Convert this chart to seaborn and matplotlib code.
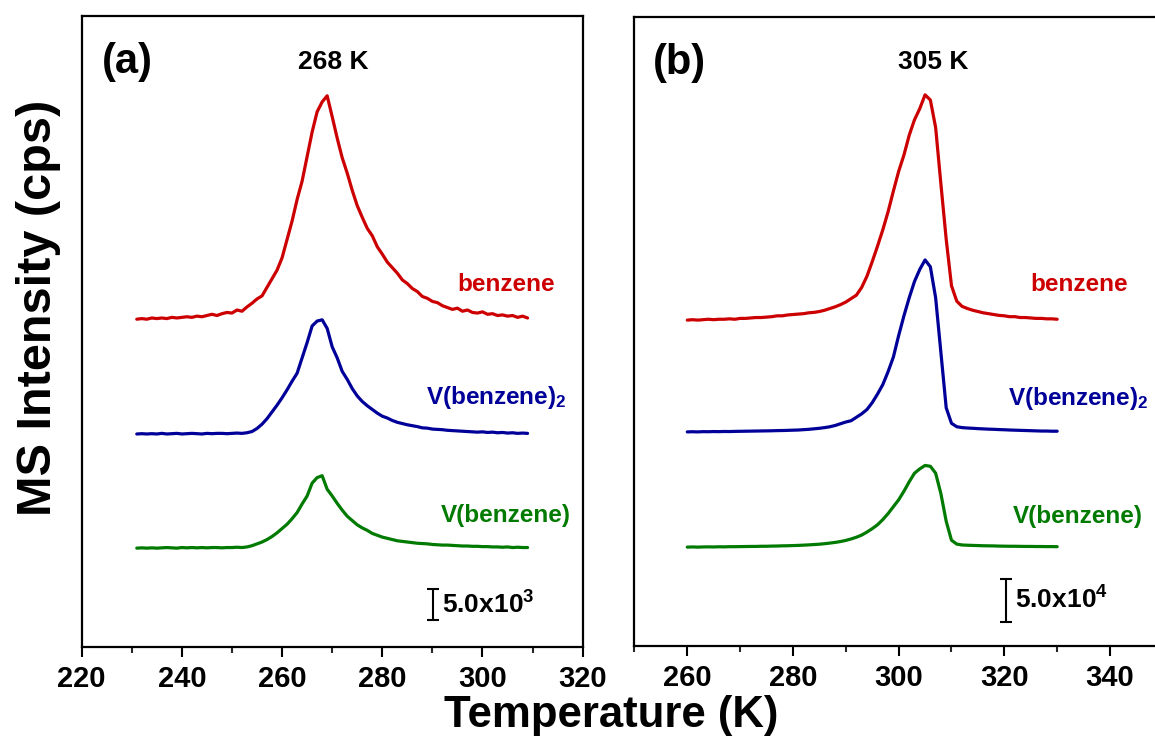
import numpy as np
import pandas as pd
import seaborn as sns
import matplotlib
matplotlib.use("Agg")
import matplotlib.pyplot as plt
from matplotlib.ticker import MultipleLocator

# ---------------- data ----------------
# Panel (a): temperature grid (K) and desorption signals in units of 1e3 cps
temp_a = list(range(231, 310))
benzene_a = [
    0.0, 0.1, 0.0, 0.2, 0.1, 0.2, 0.1, 0.3, 0.2, 0.3,
    0.4, 0.3, 0.5, 0.4, 0.6, 0.8, 0.6, 0.9, 1.1, 1.0,
    1.5, 1.3, 2.0, 2.6, 3.3, 3.8, 5.2, 6.6, 8.0, 10.0,
    13.0, 16.0, 19.5, 22.5, 26.5, 30.5, 33.8, 35.4, 36.4, 33.0,
    29.5, 26.3, 23.8, 21.0, 18.5, 16.6, 14.8, 13.6, 11.8, 10.6,
    9.3, 8.4, 7.5, 6.4, 5.8, 5.0, 4.5, 3.7, 3.4, 2.9,
    2.7, 2.2, 1.9, 1.6, 1.8, 1.3, 1.5, 1.1, 1.0, 1.2,
    0.8, 0.9, 0.6, 0.7, 0.5, 0.6, 0.3, 0.5, 0.2,
]
vbz2_a = [
    0.0, 0.05, 0.0, 0.05, 0.0, 0.1, 0.0, 0.05, 0.1, 0.0,
    0.05, 0.1, 0.05, 0.0, 0.1, 0.05, 0.1, 0.1, 0.05, 0.1,
    0.15, 0.1, 0.2, 0.4, 0.9, 1.6, 2.5, 3.6, 4.7, 5.9,
    7.2, 8.6, 9.9, 12.4, 14.9, 17.6, 18.4, 18.6, 17.2, 14.2,
    12.4, 10.2, 8.9, 7.4, 6.2, 5.3, 4.6, 4.0, 3.4, 2.9,
    2.6, 2.2, 1.9, 1.7, 1.5, 1.35, 1.2, 1.0, 0.95, 0.8,
    0.75, 0.7, 0.6, 0.55, 0.5, 0.45, 0.4, 0.35, 0.3, 0.35,
    0.25, 0.3, 0.2, 0.25, 0.15, 0.2, 0.1, 0.15, 0.1,
]
vbz_a = [
    0.0, 0.05, 0.0, 0.05, 0.0, 0.05, 0.1, 0.05, 0.0, 0.1,
    0.05, 0.1, 0.05, 0.1, 0.05, 0.1, 0.1, 0.05, 0.1, 0.1,
    0.15, 0.1, 0.2, 0.4, 0.7, 1.0, 1.4, 1.9, 2.5, 3.2,
    3.9, 4.8, 5.8, 7.2, 8.5, 10.6, 11.5, 11.8, 9.6, 8.5,
    7.3, 6.2, 5.2, 4.5, 3.8, 3.3, 2.9, 2.4, 2.1, 1.8,
    1.6, 1.4, 1.2, 1.1, 1.0, 0.9, 0.8, 0.75, 0.7, 0.6,
    0.55, 0.5, 0.5, 0.45, 0.4, 0.35, 0.35, 0.3, 0.3, 0.25,
    0.25, 0.2, 0.2, 0.15, 0.2, 0.1, 0.15, 0.1, 0.1,
]

# Panel (b): temperature grid (K) and desorption signals in units of 1e4 cps
temp_b = list(range(260, 331))
benzene_b = [
    0.0, 0.05, 0.0, 0.05, 0.1, 0.05, 0.1, 0.1, 0.15, 0.1,
    0.2, 0.2, 0.25, 0.3, 0.3, 0.35, 0.4, 0.5, 0.5, 0.6,
    0.65, 0.7, 0.75, 0.85, 0.9, 1.0, 1.15, 1.35, 1.55, 1.8,
    2.1, 2.5, 2.9, 3.8, 5.1, 6.8, 8.6, 10.5, 12.6, 15.0,
    17.3, 19.2, 21.5, 23.3, 24.6, 26.2, 25.6, 22.4, 15.8, 9.4,
    4.0, 2.2, 1.6, 1.35, 1.15, 1.0, 0.85, 0.75, 0.65, 0.55,
    0.5, 0.4, 0.4, 0.3, 0.3, 0.25, 0.2, 0.2, 0.15, 0.15, 0.1,
]
vbz2_b = [
    0.0, 0.02, 0.0, 0.03, 0.02, 0.04, 0.03, 0.05, 0.04, 0.06,
    0.07, 0.08, 0.09, 0.1, 0.11, 0.12, 0.13, 0.15, 0.16, 0.18,
    0.2, 0.22, 0.26, 0.3, 0.36, 0.42, 0.5, 0.6, 0.75, 0.95,
    1.15, 1.3, 1.7, 2.1, 2.6, 3.4, 4.4, 5.5, 7.0, 8.7,
    11.2, 13.5, 15.6, 17.5, 18.9, 20.0, 19.2, 15.6, 9.2, 2.8,
    1.0, 0.6, 0.5, 0.45, 0.42, 0.38, 0.35, 0.32, 0.3, 0.27,
    0.25, 0.22, 0.2, 0.18, 0.16, 0.14, 0.12, 0.1, 0.1, 0.08, 0.08,
]
vbz_b = [
    0.0, 0.02, 0.0, 0.02, 0.03, 0.02, 0.04, 0.03, 0.05, 0.05,
    0.06, 0.07, 0.08, 0.08, 0.1, 0.1, 0.12, 0.13, 0.15, 0.16,
    0.18, 0.2, 0.23, 0.26, 0.3, 0.34, 0.4, 0.47, 0.55, 0.65,
    0.78, 0.95, 1.15, 1.4, 1.75, 2.15, 2.6, 3.2, 3.9, 4.7,
    5.5, 6.5, 7.6, 8.6, 9.1, 9.5, 9.4, 8.6, 6.2, 3.0,
    0.8, 0.35, 0.25, 0.22, 0.2, 0.18, 0.16, 0.15, 0.14, 0.12,
    0.11, 0.1, 0.1, 0.09, 0.08, 0.08, 0.07, 0.07, 0.06, 0.06, 0.05,
]

series_names = ["benzene", "V(benzene)$_2$", "V(benzene)"]
peak_labels = ["268 K", "305 K"]
panel_tags = ["(a)", "(b)"]
scale_labels = ["5.0x10$^3$", "5.0x10$^4$"]
scale_size = 5.0

# ---------------- style ----------------
sns.set_theme(style="ticks")
plt.rcParams["font.family"] = ["Liberation Sans", "DejaVu Sans"]
plt.rcParams["font.weight"] = "bold"
plt.rcParams["text.color"] = "black"
plt.rcParams["mathtext.fontset"] = "custom"
plt.rcParams["mathtext.rm"] = "Liberation Sans:bold"
plt.rcParams["mathtext.it"] = "Liberation Sans:bold"
plt.rcParams["mathtext.bf"] = "Liberation Sans:bold"

colors = ["#cc0000", "#000099", "#007a00"]

fig = plt.figure(figsize=(11.55, 7.47), dpi=100)
ax_a = fig.add_axes([0.0707, 0.1339, 0.4338, 0.8447])
ax_b = fig.add_axes([0.5493, 0.1352, 0.4575, 0.8426])

panels = [
    dict(ax=ax_a, temp=temp_a, data=[benzene_a, vbz2_a, vbz_a],
         offsets=[53.4, 34.7, 16.1], ylim=102.8, xlim=(220, 320),
         majors=range(220, 321, 20),
         label_pos=[(304.7, 59.0), (302.7, 40.6), (304.7, 21.5)],
         peak_pos=(270.2, 95.3), bar=(290.2, 4.4), bar_text_x=292.0,
         tag_x=0.092),
    dict(ax=ax_b, temp=temp_b, data=[benzene_b, vbz2_b, vbz_b],
         offsets=[37.9, 24.9, 11.5], ylim=73.2, xlim=(250, 350),
         majors=range(260, 341, 20),
         label_pos=[(334.1, 42.0), (333.9, 28.8), (333.9, 15.1)],
         peak_pos=(306.5, 67.9), bar=(320.3, 2.8), bar_text_x=322.0,
         tag_x=0.086),
]

for i, p in enumerate(panels):
    ax = p["ax"]
    for name, vals, off, col in zip(series_names, p["data"], p["offsets"], colors):
        df = pd.DataFrame({"T": p["temp"], "I": np.asarray(vals) + off})
        sns.lineplot(data=df, x="T", y="I", ax=ax, color=col, lw=2.3,
                     estimator=None, legend=False)
    for name, (lx, ly), col in zip(series_names, p["label_pos"], colors):
        ax.text(lx, ly, name, color=col, fontsize=17.5, fontweight="bold",
                ha="center", va="center")

    ax.text(*p["peak_pos"], peak_labels[i], fontsize=19, fontweight="bold",
            ha="center", va="center", color="black")
    ax.text(p["tag_x"], 0.927, panel_tags[i], transform=ax.transAxes,
            fontsize=30, fontweight="bold", ha="center", va="center", color="black")

    # intensity scale bar
    bx, by = p["bar"]
    ax.errorbar([bx], [by + scale_size / 2], yerr=[scale_size / 2], color="black",
                lw=1.5, capsize=4.5, capthick=1.5)
    ax.text(p["bar_text_x"], by + scale_size / 2, scale_labels[i], fontsize=19,
            fontweight="bold", ha="left", va="center", color="black")

    ax.set_xlim(*p["xlim"])
    ax.set_ylim(0, p["ylim"])
    ax.set_xticks(list(p["majors"]))
    ax.xaxis.set_minor_locator(MultipleLocator(10))
    ax.set_yticks([])
    ax.set_xlabel("")
    ax.set_ylabel("")
    ax.tick_params(axis="x", which="major", direction="out", length=7, width=1.5,
                   labelsize=21, pad=6, colors="black")
    ax.tick_params(axis="x", which="minor", direction="out", length=4, width=1.5)
    for lab in ax.get_xticklabels():
        lab.set_fontweight("bold")
    for s in ax.spines.values():
        s.set_visible(True)
        s.set_linewidth(1.6)
        s.set_color("black")

fig.text(0.529, 0.042, "Temperature (K)", fontsize=31.5, fontweight="bold",
         ha="center", va="center", color="black")
fig.text(0.033, 0.588, "MS Intensity (cps)", fontsize=35, fontweight="bold",
         ha="center", va="center", rotation=90, color="black")

fig.savefig("out.png", dpi=100)
